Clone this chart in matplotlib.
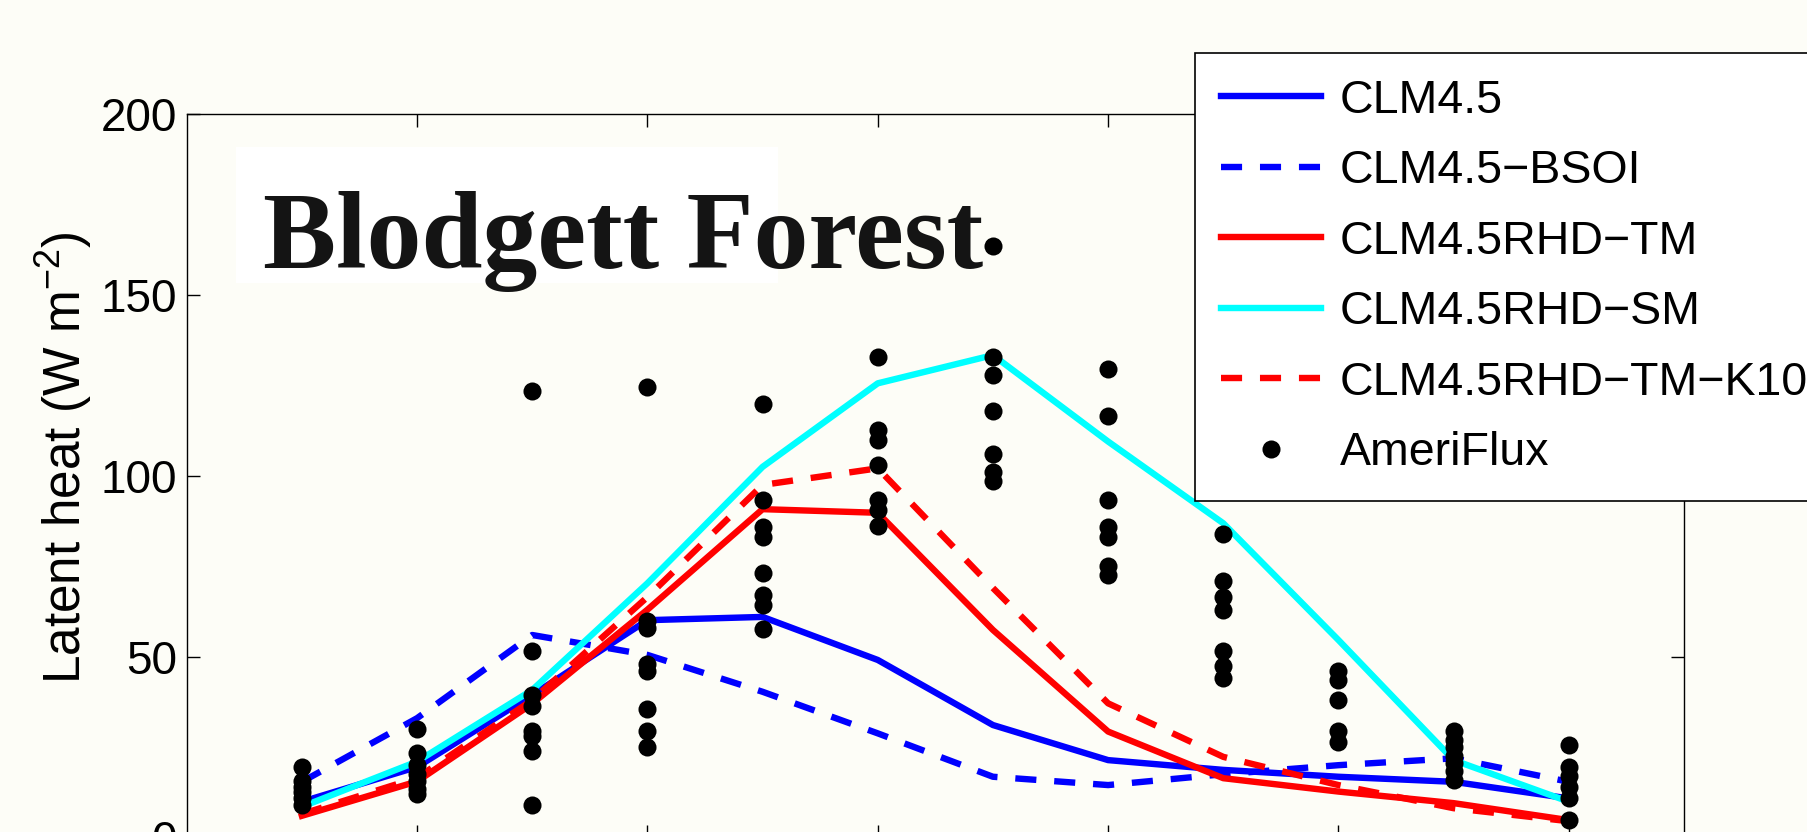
import numpy as np
import matplotlib
matplotlib.use("Agg")
import matplotlib.pyplot as plt
from matplotlib.patches import Rectangle

plt.rcParams['font.family'] = ['Liberation Sans', 'DejaVu Sans']
plt.rcParams['mathtext.fontset'] = 'custom'
plt.rcParams['mathtext.rm'] = 'Liberation Sans'
plt.rcParams['mathtext.it'] = 'Liberation Sans:italic'

# %%
# Monthly mean latent heat, Blodgett Forest

months = np.arange(1, 13)

clm45 = [9.9, 19.5, 39.4, 60.1, 61.0, 49.1, 31.1, 21.4, 18.7, 16.8, 15.4, 10.8]
clm45_bsoi = [15.4, 33.0, 56.0, 50.5, 40.3, 28.8, 16.8, 14.5, 17.5, 20.0, 21.9, 15.4]
clm45rhd_tm = [6.0, 15.5, 37.0, 63.0, 90.8, 89.8, 57.4, 29.3, 16.4, 12.7, 9.5, 4.8]
clm45rhd_sm = [8.5, 21.0, 40.8, 70.3, 102.5, 125.6, 133.4, 109.5, 86.9, 54.6, 21.4, 9.9]
clm45rhd_tm_k10 = [6.5, 16.5, 38.0, 66.5, 97.5, 102.1, 69.0, 37.1, 22.3, 14.5, 8.1, 4.5]

# AmeriFlux site-years, one list per month
ameriflux = [
    [19.5, 15.5, 14.0, 12.5, 11.0, 9.0],
    [30.0, 23.5, 20.0, 17.5, 15.5, 13.5, 12.0],
    [123.5, 51.5, 39.5, 36.5, 29.5, 28.0, 24.0, 9.0],
    [124.5, 60.0, 58.0, 48.0, 46.0, 35.5, 29.5, 25.0],
    [120.0, 93.3, 86.0, 83.2, 73.2, 67.0, 64.3, 57.6],
    [133.0, 112.7, 110.0, 103.0, 93.3, 90.6, 86.2],
    [163.5, 133.0, 128.0, 118.0, 106.0, 101.0, 98.5],
    [129.5, 116.5, 93.3, 86.0, 83.0, 75.0, 72.5],
    [84.0, 71.0, 66.5, 63.0, 51.5, 47.5, 44.0],
    [46.0, 43.5, 38.0, 29.5, 26.5],
    [29.5, 27.0, 25.0, 22.5, 20.5, 18.5, 16.0],
    [25.5, 19.5, 17.0, 14.0, 11.0, 4.8],
]

labels = ["CLM4.5", "CLM4.5\u2212BSOI", "CLM4.5RHD\u2212TM",
          "CLM4.5RHD\u2212SM", "CLM4.5RHD\u2212TM\u2212K10", "AmeriFlux"]
xticks = [2, 4, 6, 8, 10, 12]
yticks = [0, 50, 100, 150, 200]

# %%
bg = '#fdfdf7'
W, H = 1807, 832
fig = plt.figure(figsize=(W / 100, H / 100), dpi=100, facecolor=bg)
ax = fig.add_axes([186.7 / W, 1 - 837.5 / H, (1684 - 186.7) / W, (837.5 - 114.3) / H])
ax.set_facecolor(bg)

lw = 4.6
dash = (0, (3.3, 2.8))
ax.plot(months, clm45, color=(0, 0, 1), lw=lw, label=labels[0])
ax.plot(months, clm45_bsoi, color=(0, 0, 1), lw=lw, ls=dash, label=labels[1])
ax.plot(months, clm45rhd_tm, color=(1, 0, 0), lw=lw, label=labels[2])
ax.plot(months, clm45rhd_sm, color=(0, 1, 1), lw=lw, label=labels[3])
ax.plot(months, clm45rhd_tm_k10, color=(1, 0, 0), lw=lw, ls=dash, label=labels[4])

obs_x = [m for m, vals in zip(months, ameriflux) for _ in vals]
obs_y = [v for vals in ameriflux for v in vals]
ax.plot(obs_x, obs_y, 'o', color='black', ms=13, mew=0, ls='none', label=labels[5], zorder=5)

ax.set_xlim(0, 13)
ax.set_ylim(0, 200)
ax.set_xticks(xticks)
ax.set_yticks(yticks)
ax.tick_params(direction='in', length=9.4, width=1.0, labelsize=33, pad=7,
               top=True, right=True)
for s in ax.spines.values():
    s.set_linewidth(1.0)

ax.set_ylabel("Latent heat (W m$^{-2}$)", fontsize=37)
ax.yaxis.set_label_coords(-0.062, 0.525)

# site name on a white patch (display pixels, origin bottom-left)
ax.add_patch(Rectangle((236, H - 283), 542, 136, transform=None, facecolor='white',
                       edgecolor='none', zorder=0.5))
ax.text(263 / W, 1 - 268 / H, "Blodgett Forest", transform=fig.transFigure,
        family='Liberation Serif', weight='bold', fontsize=79, color='#141414',
        ha='left', va='baseline', zorder=1)

leg = ax.legend(loc='upper left', bbox_to_anchor=(1195 / W, 1 - 53 / H),
                bbox_transform=fig.transFigure, borderaxespad=0, fontsize=33.5,
                frameon=True, fancybox=False, framealpha=1, facecolor='white',
                edgecolor='black', borderpad=0.55, labelspacing=0.57,
                handlelength=2.15, handletextpad=0.41, numpoints=1)
leg.get_frame().set_linewidth(1.2)

fig.savefig("out.png", dpi=100, facecolor=bg)
